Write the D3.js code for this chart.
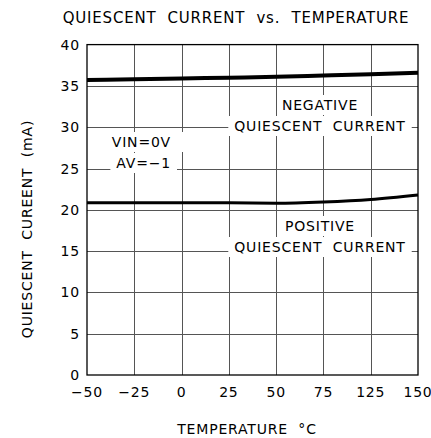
<!DOCTYPE html>
<html>
<head>
<meta charset="utf-8">
<script src="https://cdn.jsdelivr.net/npm/d3@7"></script>
<style>
  html, body { margin: 0; padding: 0; background: #fff; }
  svg { display: block; }
  text { font-family: "DejaVu Sans", sans-serif; fill: #000; letter-spacing: 0.8px; white-space: pre; }
</style>
</head>
<body>
<svg id="chart" width="431" height="438"></svg>
<script>
// temperature tick labels (the axis skips 100)
const tempLabels = ['-50', '-25', '0', '25', '50', '75', '125', '150'];
const currentTicks = [0, 5, 10, 15, 20, 25, 30, 35, 40];
// quiescent current (mA)
const negativeCurrent = [35.7, 35.8, 35.9, 36.0, 36.1, 36.25, 36.4, 36.6];
const positiveCurrent = [20.85, 20.85, 20.85, 20.85, 20.8, 20.95, 21.25, 21.8];

const svg = d3.select('#chart');
const plotL = 87, plotR = 418, plotT = 44.6, plotB = 375;

const x = d3.scalePoint().domain(tempLabels).range([plotL, plotR]);
const y = d3.scaleLinear().domain([0, 40]).range([plotB, plotT]);

// grid
const grid = svg.append('g').attr('stroke', '#555').attr('stroke-width', 1);
grid.selectAll('.vg').data(tempLabels.slice(1, -1)).join('line')
  .attr('x1', d => Math.round(x(d)) + 0.5).attr('x2', d => Math.round(x(d)) + 0.5)
  .attr('y1', plotT).attr('y2', plotB);
grid.selectAll('.hg').data(currentTicks.slice(1, -1)).join('line')
  .attr('x1', plotL).attr('x2', plotR)
  .attr('y1', d => Math.round(y(d)) + 0.5).attr('y2', d => Math.round(y(d)) + 0.5);

// labels with white backing that hides the grid
function boxedLabel(lines, anchor) {
  const g = svg.append('g');
  lines.forEach(l => {
    const t = g.append('text').attr('x', l.x).attr('y', l.y)
      .attr('text-anchor', anchor).attr('font-size', 14).text(l.text);
    const b = t.node().getBBox();
    g.insert('rect', 'text')
      .attr('x', b.x - l.px).attr('y', b.y - 2)
      .attr('width', b.width + 2 * l.px).attr('height', b.height + 4)
      .attr('fill', '#fff');
  });
}
boxedLabel([
  { text: 'VIN=0V', x: 171, y: 147, px: 14 },
  { text: 'AV=\u22121', x: 171, y: 168, px: 6 }
], 'end');
boxedLabel([
  { text: 'NEGATIVE', x: 320, y: 110, px: 4 },
  { text: 'QUIESCENT  CURRENT', x: 320, y: 131, px: 6 }
], 'middle');
boxedLabel([
  { text: 'POSITIVE', x: 320, y: 231, px: 4 },
  { text: 'QUIESCENT  CURRENT', x: 320, y: 252, px: 6 }
], 'middle');

// frame
svg.append('rect').attr('x', plotL).attr('y', plotT)
  .attr('width', plotR - plotL).attr('height', plotB - plotT)
  .attr('fill', 'none').attr('stroke', '#000').attr('stroke-width', 1.3);

// curves
const line = d3.line().x((d, i) => x(tempLabels[i])).y(d => y(d)).curve(d3.curveMonotoneX);
svg.append('path').datum(negativeCurrent).attr('d', line)
  .attr('fill', 'none').attr('stroke', '#000').attr('stroke-width', 4);
svg.append('path').datum(positiveCurrent).attr('d', line)
  .attr('fill', 'none').attr('stroke', '#000').attr('stroke-width', 3);

// tick labels
svg.append('g').selectAll('text').data(currentTicks).join('text')
  .attr('x', 80).attr('y', d => y(d) + 5).attr('text-anchor', 'end')
  .attr('font-size', 14).text(d => d);
svg.append('g').selectAll('text').data(tempLabels).join('text')
  .attr('x', d => x(d)).attr('y', 397).attr('text-anchor', 'middle')
  .attr('font-size', 14).text(d => d.replace('-', '\u2212'));

// titles
svg.append('text').attr('x', 236).attr('y', 22.5).attr('text-anchor', 'middle')
  .attr('font-size', 15).text('QUIESCENT  CURRENT  vs.  TEMPERATURE');
svg.append('text').attr('x', 247).attr('y', 434).attr('text-anchor', 'middle')
  .attr('font-size', 14).text('TEMPERATURE  \u00B0C');
svg.append('text').attr('transform', 'translate(31.5,229) rotate(-90)')
  .attr('text-anchor', 'middle').attr('font-size', 14)
  .text('QUIESCENT  CUREENT  (mA)');
</script>
</body>
</html>
